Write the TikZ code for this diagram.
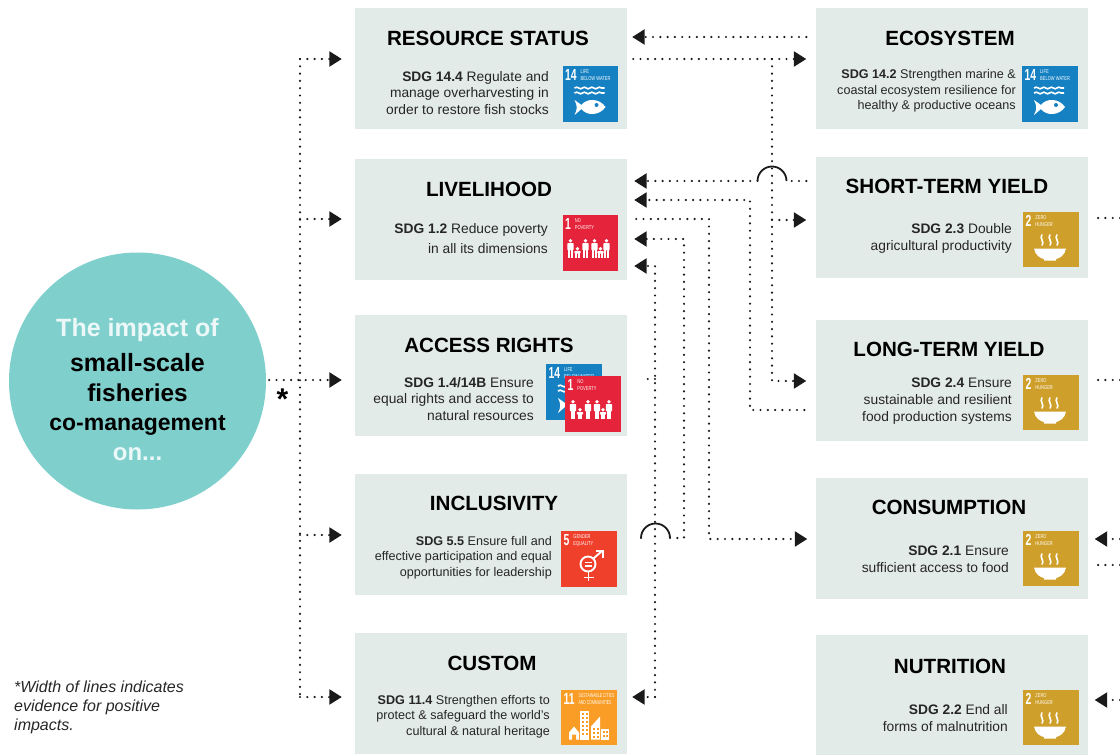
\documentclass[tikz,border=0pt]{standalone}
\usepackage{fontspec}
\setmainfont{Liberation Sans}
\usetikzlibrary{arrows.meta,positioning,decorations.pathmorphing}
\definecolor{panelgrey}{HTML}{E3EBE8}
\definecolor{impactteal}{HTML}{7FD0CD}
\definecolor{lifeblue}{HTML}{1581C3}
\definecolor{povertyred}{HTML}{E5243B}
\definecolor{hungergold}{HTML}{CF9F2B}
\definecolor{genderred}{HTML}{EF402B}
\definecolor{cityorange}{HTML}{F99D26}
\definecolor{flowblack}{HTML}{1A1A1A}
\tikzset{
  panel/.style={fill=panelgrey, minimum width=272pt, minimum height=121pt, inner sep=0pt},
  heading/.style={font=\fontsize{20.6}{25}\selectfont\bfseries, inner sep=0pt},
  body/.style 2 args={anchor=east, align=right, inner sep=0pt, text=black!85, font=\fontsize{#1}{#2}\selectfont},
  dots/.style={draw=flowblack, line width=2.4pt, line cap=round, dash pattern=on 0pt off 7.3pt},
  flow/.style={dots, -{Triangle[length=12.5pt,width=15pt,fill=flowblack]}},
  hop/.style={draw=flowblack, line width=1.8pt},
  tilenum/.style={anchor=north west, inner sep=0pt, text=white, font=\fontsize{16}{16}\selectfont\bfseries},
  tilelab/.style={inner sep=0pt, align=left, text=white, font=\fontsize{5.6}{7}\selectfont},
  ink/.style={white, line width=1.6pt},
}
% tile: prefix, top left corner, colour, number, two label lines, drawing
\newcommand{\sdgtile}[7]{%
  \begin{scope}[shift={(#2)}]
    \fill[#3] (0,0) rectangle (55.5,55.5);
    \node[tilenum] (#1num) at (2.5,3.5) {\scalebox{.65}[1]{#4}};
    \node[tilelab, right=3.5pt of #1num] (#1lab) {\scalebox{.72}[1]{#5}\\\scalebox{.72}[1]{#6}};
    #7
  \end{scope}}
\newcommand{\fishmark}{%
  \draw[ink, decorate, decoration={snake,amplitude=.8pt,segment length=7.5pt}] (12,22) -- (42,22);
  \draw[ink, decorate, decoration={snake,amplitude=.8pt,segment length=7.5pt}] (12,27) -- (42,27);
  \fill[white] (43,41) .. controls (37,32) and (24,32) .. (19,39) -- (12,34) .. controls (15,40) and (15,43) .. (12,49) -- (19,43) .. controls (24,50) and (37,50) .. (43,41) -- cycle;
  \fill[lifeblue] (34,39) circle (2);}
\newcommand{\bowlmark}{%
  \fill[white] (11,37) -- (43,37) .. controls (42,44) and (36,47) .. (33,47.5) -- (33,49) -- (21,49) -- (21,47.5) .. controls (18,47) and (12,44) .. (11,37) -- cycle;
  \foreach \sx in {19,27,34}
    \draw[ink] (\sx,23) .. controls (\sx-3,27) and (\sx+3,30) .. (\sx,34);}
\newcommand{\peoplemark}{%
  \foreach \px/\ph in {8/19,15/11,23/19,32/19,38/11,44/19}{
    \fill[white] (\px,43-\ph+1.8) circle (1.9);
    \fill[white, rounded corners=.8pt] (\px-3.1,43-\ph+4) rectangle (\px+3.1,43-.4*\ph);
    \fill[white] (\px-2.2,43-.45*\ph) rectangle (\px-.2,43);
    \fill[white] (\px+.2,43-.45*\ph) rectangle (\px+2.2,43);}}
\newcommand{\gendermark}{%
  \draw[white, line width=1.9pt] (27,33) circle (7.5);
  \fill[white] (23.5,30.5) rectangle (30.5,32.2);
  \fill[white] (23.5,33.8) rectangle (30.5,35.5);
  \draw[white, line width=1.9pt] (32.5,27.5) -- (41,20);
  \draw[white, line width=1.9pt] (35,20) -- (42,20) -- (42,27);
  \draw[white, line width=1.9pt] (27.5,41) -- (27.5,50);
  \draw[white, line width=1.9pt] (22.5,46.5) -- (32.5,46.5);}
\newcommand{\citymark}{%
  \fill[white] (8,43) -- (13,37) -- (18,43) -- (18,50) -- (15,50) -- (15,45) -- (11,45) -- (11,50) -- (8,50) -- cycle;
  \fill[white] (19,21) rectangle (28,50);
  \foreach \wy in {23,27,31,35,39,43}{
    \fill[cityorange] (20.5,\wy) rectangle (23,\wy+2.2);
    \fill[cityorange] (24.5,\wy) rectangle (27,\wy+2.2);}
  \fill[white] (30,37) -- (39,27) -- (39,50) -- (30,50) -- cycle;
  \foreach \wy in {38,42,46}{
    \fill[cityorange] (31.5,\wy) rectangle (34,\wy+2.2);
    \fill[cityorange] (35.5,\wy) rectangle (37.5,\wy+2.2);}
  \fill[white] (40,39) rectangle (48,50);
  \foreach \wy in {41.5,45.5}{
    \fill[cityorange] (41.5,\wy) rectangle (43.5,\wy+2);
    \fill[cityorange] (44.8,\wy) rectangle (46.8,\wy+2);}}
\begin{document}
\begin{tikzpicture}[x=1pt,y=-1pt]
\useasboundingbox (0,0) rectangle (1120,755);
% panels
\node[panel] (resource) at (491,68.5){};
\node[panel] (ecosystem) at (951.5,68.5){};
\node[panel] (livelihood) at (491,219.5){};
\node[panel] (shortyield) at (951.5,217.5){};
\node[panel] (access) at (491,375.5){};
\node[panel] (longyield) at (951.5,380.5){};
\node[panel] (inclusivity) at (491,534){};
\node[panel] (consumption) at (951.5,538.5){};
\node[panel] (custom) at (491,693.5){};
\node[panel] (nutrition) at (951.5,695.5){};
\node[circle, fill=impactteal, minimum size=257pt, inner sep=0pt] (impact) at (137.5,381){};
\node[inner sep=0pt, align=center, font=\bfseries] (impacttext) at (137.5,389.5){%
  \fontsize{25}{24}\selectfont\textcolor{white!85!impactteal}{The impact of}\\[10pt]
  \fontsize{25}{24}\selectfont small-scale\\[11pt]
  \fontsize{24.4}{24}\selectfont fisheries\\[13pt]
  \fontsize{23}{24}\selectfont co-management\\[11pt]
  \fontsize{24}{24}\selectfont\textcolor{white!85!impactteal}{on...}};
% headings
\node[heading] (resourcehead) at (488,38){RESOURCE STATUS};
\node[heading] (ecosystemhead) at (950,38){ECOSYSTEM};
\node[heading] (livelihoodhead) at (489,189.5){LIVELIHOOD};
\node[heading] (shorthead) at (947,186.5){SHORT-TERM YIELD};
\node[heading] (accesshead) at (489,345){ACCESS RIGHTS};
\node[heading] (longhead) at (949,349.5){LONG-TERM YIELD};
\node[heading] (inclusivityhead) at (494,503){INCLUSIVITY};
\node[heading] (consumptionhead) at (949,507.5){CONSUMPTION};
\node[heading] (customhead) at (492,663.5){CUSTOM};
\node[heading] (nutritionhead) at (950,666.5){NUTRITION};
% body texts
\node[body={13.8}{16.5}] (resourcetext) at (549,93){\textbf{SDG 14.4} Regulate and\\manage overharvesting in\\order to restore fish stocks};
\node[body={12.6}{15.5}] (ecosystemtext) at (1016,91){\textbf{SDG 14.2} Strengthen marine \&\\coastal ecosystem resilience for\\healthy \& productive oceans};
\node[body={13.8}{20}] (livelihoodtext) at (548,239){\textbf{SDG 1.2} Reduce poverty\\in all its dimensions};
\node[body={13.8}{17}] (shorttext) at (1012,238){\textbf{SDG 2.3} Double\\agricultural productivity};
\node[body={13.8}{16.5}] (accesstext) at (534,399){\textbf{SDG 1.4/14B} Ensure\\equal rights and access to\\natural resources};
\node[body={13.8}{17}] (longtext) at (1012,401){\textbf{SDG 2.4} Ensure\\sustainable and resilient\\food production systems};
\node[body={12.6}{15.5}] (inclusivitytext) at (552,557.5){\textbf{SDG 5.5} Ensure full and\\effective participation and equal\\opportunities for leadership};
\node[body={13.8}{17}] (consumptiontext) at (1009,559.5){\textbf{SDG 2.1} Ensure\\sufficient access to food};
\node[body={12.6}{15.5}] (customtext) at (550,716.5){\textbf{SDG 11.4} Strengthen efforts to\\protect \& safeguard the world's\\cultural \& natural heritage};
\node[body={13.8}{16.5}] (nutritiontext) at (1008,718){\textbf{SDG 2.2} End all\\forms of malnutrition};
% tiles
\sdgtile{rs}{562.5,66}{lifeblue}{14}{LIFE}{BELOW WATER}{\fishmark}
\sdgtile{ec}{1022,66}{lifeblue}{14}{LIFE}{BELOW WATER}{\fishmark}
\sdgtile{li}{562.5,215}{povertyred}{1}{NO}{POVERTY}{\peoplemark}
\sdgtile{sy}{1023,211.5}{hungergold}{2}{ZERO}{HUNGER}{\bowlmark}
\sdgtile{ab}{546,364}{lifeblue}{14}{LIFE}{BELOW WATER}{\fishmark}
\sdgtile{ar}{565,376}{povertyred}{1}{NO}{POVERTY}{\peoplemark}
\sdgtile{ly}{1023,374.5}{hungergold}{2}{ZERO}{HUNGER}{\bowlmark}
\sdgtile{in}{561,531}{genderred}{5}{GENDER}{EQUALITY}{\gendermark}
\sdgtile{cn}{1023,530.5}{hungergold}{2}{ZERO}{HUNGER}{\bowlmark}
\sdgtile{cu}{561,689.5}{cityorange}{11}{\scalebox{.86}[1]{SUSTAINABLE CITIES}}{\scalebox{.86}[1]{AND COMMUNITIES}}{\citymark}
\sdgtile{nu}{1023,689.5}{hungergold}{2}{ZERO}{HUNGER}{\bowlmark}
% from the circle
\coordinate (trunktop) at (300,59);
\coordinate (trunkb) at (300,219);
\coordinate (trunkc) at (300,380);
\coordinate (trunkd) at (300,535);
\coordinate (trunkend) at (300,697);
\draw[dots] (trunktop) -- (trunkend);
\draw[flow, shorten >=13pt] (trunktop) -- (resource.west |- trunktop);
\draw[flow, shorten >=13pt] (trunkb) -- (livelihood.west |- trunkb);
\draw[flow, shorten <=3pt, shorten >=13pt] (impact.east |- trunkc) -- (access.west |- trunkc);
\draw[flow, shorten >=13pt] (trunkd) -- (inclusivity.west |- trunkd);
\draw[flow, shorten >=13pt] (trunkend) -- (custom.west |- trunkend);
% between the columns
\draw[flow, shorten <=9pt, shorten >=5pt] (ecosystem.west |- 0,37) -- (resource.east |- 0,37);
\coordinate (yieldtop) at (772,59);
\coordinate (yieldmid) at (772,220);
\coordinate (yieldend) at (772,381);
\draw[flow, shorten <=6pt, shorten >=9pt] (resource.east |- yieldtop) -- (ecosystem.west |- yieldtop);
\draw[flow, shorten >=9pt] (yieldtop) -- (yieldend) -- (longyield.west |- yieldend);
\draw[flow, shorten >=9pt] (yieldmid) -- (shortyield.west |- yieldmid);
\coordinate (hopaleft) at (757.5,181);
\coordinate (hoparight) at (786.5,181);
\draw[dots, shorten <=9pt] (shortyield.west |- hoparight) -- (hoparight);
\draw[hop] (hopaleft) arc (180:360:14.5);
\draw[flow, shorten >=7pt] (hopaleft) -- (livelihood.east |- hopaleft);
\coordinate (longup) at (750,200);
\coordinate (longdown) at (750,410);
\draw[flow, shorten <=11pt, shorten >=7pt] (longyield.west |- longdown) -- (longdown) -- (longup) -- (livelihood.east |- longup);
\coordinate (consumeup) at (709,219);
\coordinate (consumedown) at (709,539);
\draw[flow, shorten <=9pt, shorten >=8pt] (livelihood.east |- consumeup) -- (consumeup) -- (consumedown) -- (consumption.west |- consumedown);
\coordinate (inclup) at (684,239);
\coordinate (incldown) at (684,538);
\coordinate (hopbleft) at (641,538);
\coordinate (hopbright) at (670,538);
\draw[flow, shorten >=7pt] (hopbright) -- (incldown) -- (inclup) -- (livelihood.east |- inclup);
\draw[hop] (hopbleft) arc (180:360:14.5);
\draw[dots, shorten >=8pt] (hopbleft) -- (inclusivity.east |- hopbleft);
\coordinate (customup) at (655,266);
\coordinate (customaccess) at (655,379);
\coordinate (customdown) at (655,697);
\draw[flow, shorten >=7pt] (customdown) -- (customup) -- (livelihood.east |- customup);
\draw[flow, shorten >=5pt] (customdown) -- (custom.east |- customdown);
\draw[dots, shorten >=14pt] (customaccess) -- (access.east |- customaccess);
% stubs at the right edge
\coordinate (edgea) at (1120,218);
\coordinate (edgeb) at (1120,380);
\coordinate (edgec) at (1120,539);
\coordinate (edged) at (1120,565);
\coordinate (edgee) at (1120,700);
\draw[dots, shorten >=9pt] (edgea) -- (shortyield.east |- edgea);
\draw[dots, shorten >=9pt] (edgeb) -- (longyield.east |- edgeb);
\draw[flow, shorten >=7pt] (edgec) -- (consumption.east |- edgec);
\draw[dots, shorten >=9pt] (edged) -- (consumption.east |- edged);
\draw[flow, shorten >=7pt] (edgee) -- (nutrition.east |- edgee);
% notes
\node[inner sep=0pt, font=\fontsize{30}{30}\selectfont\bfseries] (star) at (282.5,399){*};
\node[anchor=west, inner sep=0pt, align=left, text=black!85, font=\fontsize{16}{19}\selectfont\itshape] (widthnote) at (14,707.5){*Width of lines indicates\\evidence for positive\\impacts.};
\end{tikzpicture}
\end{document}
